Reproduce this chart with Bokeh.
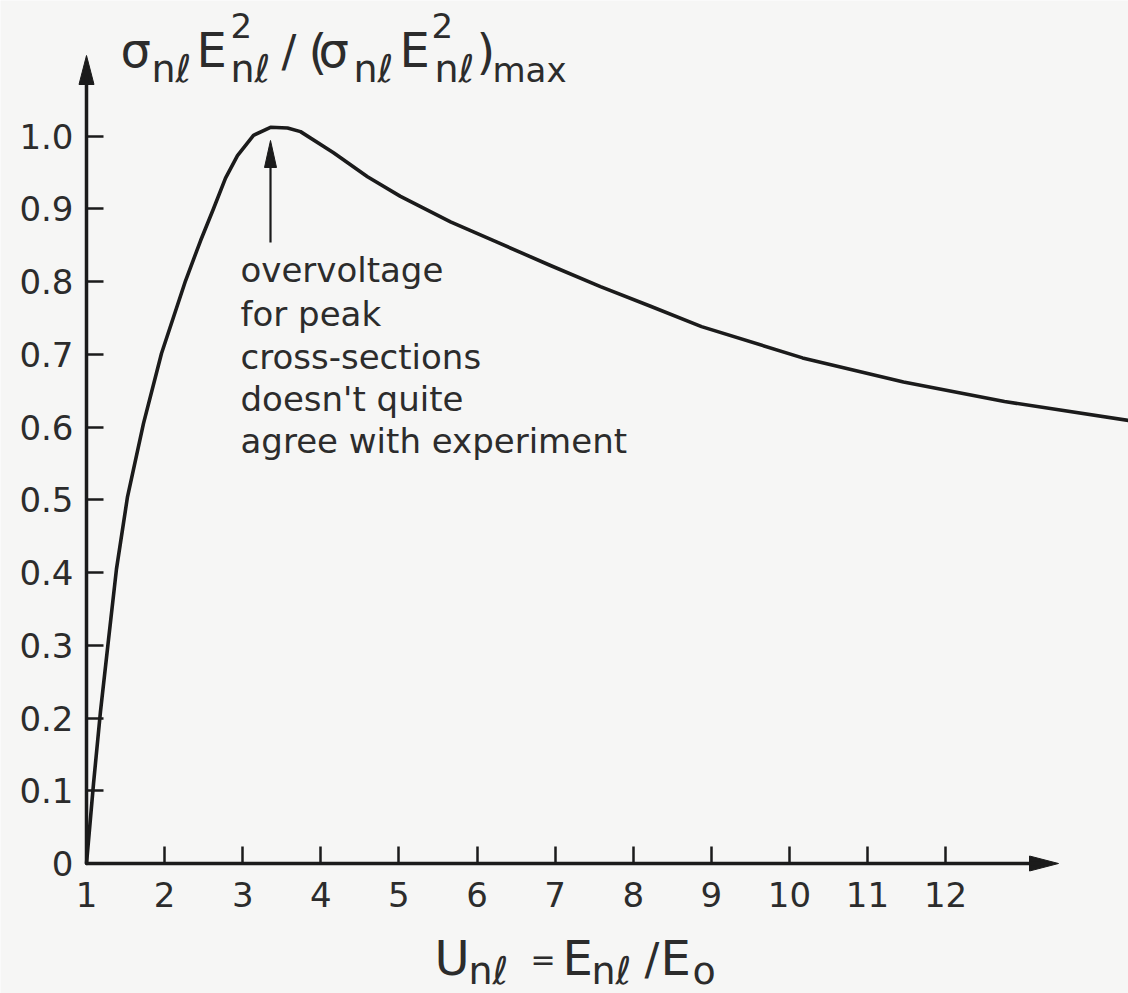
from bokeh.plotting import figure
from bokeh.models import Label, FixedTicker
from bokeh.embed import file_html
from bokeh.resources import INLINE

# Normalised ionisation term sigma*E^2 against overvoltage U = E/E0
U_NL = [1.000, 1.090, 1.179, 1.282, 1.384, 1.525, 1.730, 1.960, 2.268, 2.460,
        2.626, 2.780, 2.933, 3.138, 3.356, 3.574, 3.740, 4.163, 4.598, 5.020,
        5.661, 6.301, 6.941, 7.581, 8.222, 8.875, 10.168, 11.461, 12.754,
        14.342]
SIGMA_E2_NORM = [0.000, 0.110, 0.209, 0.308, 0.405, 0.504, 0.605, 0.701,
                 0.801, 0.856, 0.900, 0.942, 0.973, 1.001, 1.012, 1.011,
                 1.006, 0.977, 0.944, 0.917, 0.882, 0.852, 0.822, 0.793,
                 0.766, 0.738, 0.695, 0.662, 0.635, 0.609]

X_TICKS = [1, 2, 3, 4, 5, 6, 7, 8, 9, 10, 11, 12]
X_TICK_LABELS = ["1", "2", "3", "4", "5", "6", "7", "8", "9", "10", "11", "12"]
Y_TICKS = [0, 0.1, 0.2, 0.3, 0.4, 0.5, 0.6, 0.7, 0.8, 0.9, 1.0]
Y_TICK_LABELS = ["0", "0.1", "0.2", "0.3", "0.4", "0.5", "0.6", "0.7", "0.8",
                 "0.9", "1.0"]

NOTE_LINES = ["overvoltage", "for peak", "cross-sections", "doesn't quite",
              "agree with experiment"]

BG = "#f6f6f5"
INK = "#1b1b1b"
TEXT = "#2c2c2c"
FONT = "DejaVu Sans"

W, H = 1128, 993
ORIGIN_PX, ORIGIN_PY = 86, 863     # where U=1, y=0 sits on the canvas
PX_PER_U = 78.1
PX_PER_Y = 727.5


def X(px):
    """canvas pixel column -> data x"""
    return 1 + (px - ORIGIN_PX) / PX_PER_U


def Y(py):
    """canvas pixel row -> data y"""
    return (ORIGIN_PY - py) / PX_PER_Y


# the frame fills the whole canvas; the axes are pinned at U=1 and y=0
p = figure(width=W, height=H, x_range=(X(0), X(W)), y_range=(Y(H), Y(0)),
           output_backend="svg", toolbar_location=None,
           min_border=0, min_border_left=0, min_border_right=0,
           min_border_top=0, min_border_bottom=0,
           background_fill_color=BG, border_fill_color=BG,
           outline_line_color=None)
p.xgrid.visible = False
p.ygrid.visible = False

xa = p.xaxis[0]
xa.fixed_location = 0
xa.ticker = FixedTicker(ticks=X_TICKS)
xa.major_label_overrides = dict(zip(X_TICKS, X_TICK_LABELS))
xa.bounds = (1, X(1040))
ya = p.yaxis[0]
ya.fixed_location = 1
ya.ticker = FixedTicker(ticks=Y_TICKS)
ya.major_label_overrides = dict(zip(Y_TICKS, Y_TICK_LABELS))
ya.bounds = (0, Y(75))

for ax, tick_len, standoff in ((xa, 17, 18), (ya, 17, 13)):
    ax.axis_line_color = INK
    ax.axis_line_width = 3.5
    ax.major_tick_line_color = INK
    ax.major_tick_line_width = 2.5
    ax.major_tick_in = tick_len
    ax.major_tick_out = 0
    ax.minor_tick_line_color = None
    ax.major_label_text_font = FONT
    ax.major_label_text_font_size = "34px"
    ax.major_label_text_color = TEXT
    ax.major_label_standoff = standoff


def head(tip_x, tip_y, direction, length_px=29, half_w_px=7.5):
    """narrow filled arrowhead; direction is 'right' or 'up'"""
    if direction == "right":
        bx = tip_x - length_px / PX_PER_U
        hw = half_w_px / PX_PER_Y
        return [tip_x, bx, bx], [tip_y, tip_y + hw, tip_y - hw]
    by = tip_y - length_px / PX_PER_Y
    hw = half_w_px / PX_PER_U
    return [tip_x, tip_x - hw, tip_x + hw], [tip_y, by, by]


# axis arrowheads
hx_x, hx_y = head(X(1058), 0, "right")
hy_x, hy_y = head(1, Y(55), "up")
p.patches([hx_x, hy_x], [hx_y, hy_y], fill_color=INK, line_color=INK,
          line_width=1)

# the curve
p.line(U_NL, SIGMA_E2_NORM, line_width=3.6, line_color=INK,
       line_join="round", line_cap="round")

# arrow pointing at the peak of the curve
i_peak = SIGMA_E2_NORM.index(max(SIGMA_E2_NORM))
u_peak = U_NL[i_peak]
p.segment(x0=[u_peak], y0=[Y(242)], x1=[u_peak], y1=[Y(160)],
          line_width=2.2, line_color=INK)
ax_x, ax_y = head(u_peak, Y(140), "up", length_px=27, half_w_px=6)
p.patch(ax_x, ax_y, fill_color=INK, line_color=INK, line_width=1)


def put(text, px, py, size):
    """left-aligned text whose baseline sits on canvas row py"""
    p.add_layout(Label(x=X(px), y=Y(py - 0.36 * size), text=text,
                       text_font=FONT, text_font_size=f"{size}px",
                       text_color=TEXT, text_align="left",
                       text_baseline="alphabetic"))


# annotation text
for k, line in enumerate(NOTE_LINES):
    put(line, 240, [282, 326, 369, 411, 453][k], 34)

# vertical quantity: sigma_nl E_nl^2 / (sigma_nl E_nl^2)_max
for text, px, py, size in [
    ("σ", 120, 67, 48), ("nℓ", 151, 82, 38),
    ("E", 196, 67, 48), ("2", 230, 37, 34), ("nℓ", 230, 82, 38),
    ("/", 281, 67, 44), ("(", 308, 69, 48),
    ("σ", 318, 67, 48), ("nℓ", 353, 82, 38),
    ("E", 399, 67, 48), ("2", 431, 37, 34), ("nℓ", 434, 82, 38),
    (")", 476, 69, 48), ("max", 492, 82, 34),
]:
    put(text, px, py, size)

# horizontal quantity: U_nl = E_nl / E_o
for text, px, py, size in [
    ("U", 434, 975, 48), ("nℓ", 468, 984, 38),
    ("=", 530, 970, 30),
    ("E", 562, 975, 48), ("nℓ", 591, 984, 38),
    ("/", 644, 975, 44),
    ("E", 660, 975, 48), ("o", 692, 984, 38),
]:
    put(text, px, py, size)

open("out.html", "w").write(file_html(p, INLINE))
